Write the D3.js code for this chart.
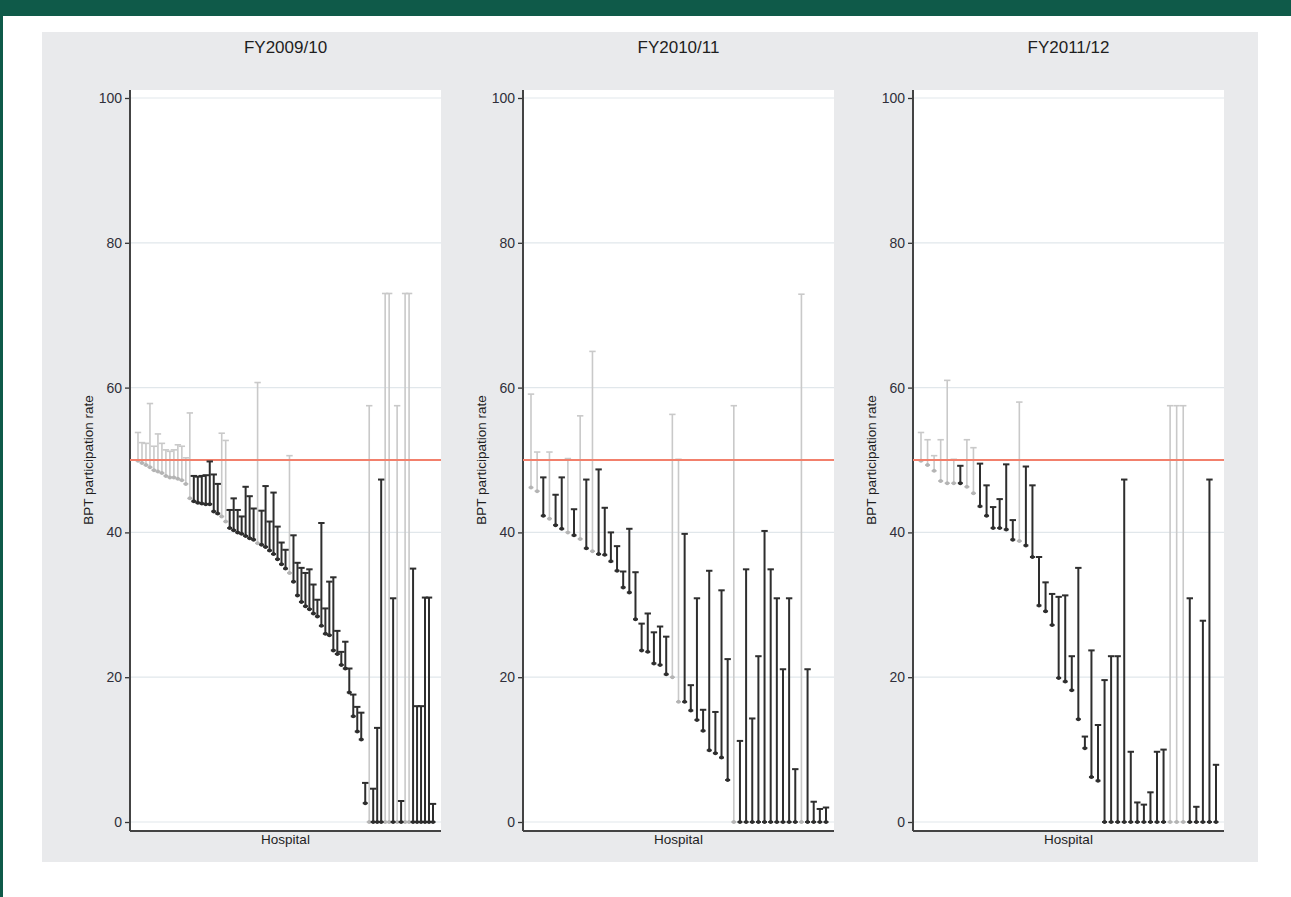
<!DOCTYPE html>
<html>
<head>
<meta charset="utf-8">
<script src="https://cdn.jsdelivr.net/npm/d3@7"></script>
<style>
  body { margin: 0; background: #fff; }
  svg { display: block; font-family: "Liberation Sans", Arial, sans-serif; }
</style>
</head>
<body>
<div id="graph"></div>
<script>
// panel titles
var years = ["FY2009/10", "FY2010/11", "FY2011/12"]

// lower / upper CI of BPT participation rate, hospitals ranked
var lower0910 = [49.9, 49.6, 49.3, 49.0, 48.6, 48.4, 48.2, 47.8, 47.6, 47.6, 47.4, 47.2, 46.7, 44.7, 44.3, 44.1, 44.0, 43.9, 43.9, 42.9,
    42.6, 42.2, 41.5, 40.6, 40.3, 40.0, 39.8, 39.5, 39.2, 39.0, 38.5, 38.3, 38.0, 37.5, 37.0, 36.3, 35.6, 35.0, 34.4, 33.2,
    31.3, 30.4, 29.8, 29.4, 28.8, 28.4, 27.1, 26.0, 25.8, 23.7, 23.2, 21.7, 21.2, 17.9, 14.6, 12.5, 11.4, 2.6, 0, 0,
    0, 0, 0, 0, 0, 0, 0, 0, 0, 0, 0, 0, 0, 0, 0]
var upper0910 = [53.8, 52.4, 52.3, 57.8, 51.9, 53.6, 52.3, 51.4, 51.2, 51.4, 52.1, 51.9, 50.3, 56.5, 47.8, 47.7, 47.8, 47.9, 49.8, 48.0,
    46.7, 53.7, 52.7, 43.1, 44.7, 43.1, 42.2, 46.3, 45.0, 43.3, 60.7, 43.0, 46.4, 41.5, 45.5, 40.8, 38.6, 37.6, 50.6, 39.6,
    35.8, 35.1, 34.4, 34.9, 32.8, 30.7, 41.3, 29.5, 33.2, 33.8, 26.4, 23.5, 24.9, 21.2, 17.6, 15.9, 15.1, 5.4, 57.5, 4.6,
    13.0, 47.3, 73.0, 73.0, 30.9, 57.5, 2.9, 73.0, 73.0, 35.0, 16.0, 16.0, 31.0, 31.0, 2.5]

var lower1011 = [46.2, 45.7, 42.3, 41.9, 41.0, 40.5, 40.0, 39.6, 39.1, 37.8, 37.4, 37.0, 36.9, 36.0, 34.7, 32.4, 31.7, 28.0, 23.7, 23.5,
    21.9, 21.7, 20.4, 20.0, 16.6, 16.6, 15.4, 14.1, 12.6, 9.9, 9.5, 8.9, 5.8, 0, 0, 0, 0, 0, 0, 0,
    0, 0, 0, 0, 0, 0, 0, 0, 0]
var upper1011 = [59.1, 51.1, 47.6, 51.1, 45.2, 47.6, 50.2, 43.2, 56.1, 47.3, 65.0, 48.7, 43.4, 40.0, 38.1, 34.6, 40.5, 34.5, 27.4, 28.8,
    26.2, 27.0, 25.6, 56.3, 50.1, 39.8, 18.9, 30.9, 15.5, 34.7, 15.2, 32.0, 22.5, 57.5, 11.2, 34.9, 14.3, 22.9, 40.2, 34.9,
    30.9, 21.1, 30.9, 7.3, 72.9, 21.1, 2.8, 1.8, 2.0]

var lower1112 = [49.9, 49.3, 48.5, 47.1, 46.8, 46.8, 46.8, 46.3, 45.4, 43.6, 42.3, 40.6, 40.6, 40.4, 39.0, 38.8, 38.2, 36.6, 29.9, 29.1,
    27.2, 19.9, 19.4, 18.2, 14.2, 10.2, 6.2, 5.7, 0, 0, 0, 0, 0, 0, 0, 0, 0, 0, 0, 0,
    0, 0, 0, 0, 0, 0]
var upper1112 = [53.8, 52.8, 50.6, 52.8, 61.0, 50.1, 49.2, 52.8, 51.7, 49.5, 46.5, 43.5, 44.6, 49.4, 41.7, 58.0, 49.1, 46.5, 36.6, 33.1,
    31.5, 31.1, 31.3, 22.9, 35.1, 11.8, 23.7, 13.4, 19.6, 22.9, 22.9, 47.3, 9.7, 2.7, 2.4, 4.1, 9.7, 10.0, 57.5, 57.5,
    57.5, 30.9, 2.1, 27.8, 47.3, 7.9]

var yTicks = [0, 20, 40, 60, 80, 100]
var target = 50

var lowers = [lower0910, lower1011, lower1112]
var uppers = [upper0910, upper1011, upper1112]

var width = 1291
var height = 897
var panelLeft = [130, 523, 913]
var plotW = 311
var plotTop = 90
var plotBottom = 831

var svg = d3.select("#graph").append("svg")
    .attr("width", width)
    .attr("height", height)

// outer frame: green strip on top and on the left
svg.append("rect").attr("x", 0).attr("y", 0).attr("width", width).attr("height", 16).attr("fill", "#0f5a49")
svg.append("rect").attr("x", 0).attr("y", 0).attr("width", 3).attr("height", height).attr("fill", "#0f5a49")

// grey graph region
svg.append("rect")
    .attr("x", 42).attr("y", 32)
    .attr("width", 1216).attr("height", 830)
    .attr("fill", "#e9eaec")

var y = d3.scaleLinear().domain([0, 100]).range([822, 98])

years.forEach(function (title, p) {
    var left = panelLeft[p]
    var lo = lowers[p]
    var up = uppers[p]
    var n = lo.length

    var x = d3.scaleLinear()
        .domain([0, n - 1])
        .range([left + 8, left + plotW - 8])

    var g = svg.append("g")

    // white plot region
    g.append("rect")
        .attr("x", left).attr("y", plotTop)
        .attr("width", plotW).attr("height", plotBottom - plotTop)
        .attr("fill", "#fff")

    // gridlines
    g.selectAll(".grid").data(yTicks).enter().append("line")
        .attr("x1", left).attr("x2", left + plotW)
        .attr("y1", function (d) { return y(d) })
        .attr("y2", function (d) { return y(d) })
        .attr("stroke", "#e1e7eb")
        .attr("stroke-width", 1.2)

    // y axis
    var axis = g.append("g")
        .attr("transform", "translate(" + left + ",0)")
        .call(d3.axisLeft(y).tickValues(yTicks).tickSize(5).tickPadding(3))
    axis.select(".domain").remove()
    axis.selectAll(".tick line").attr("stroke", "#333").attr("stroke-width", 1.3)
    axis.selectAll(".tick text")
        .attr("fill", "#2f2f3a")
        .style("font-size", "14px")
        .style("font-family", "Liberation Sans, Arial, sans-serif")

    g.append("line")
        .attr("x1", left).attr("x2", left)
        .attr("y1", plotTop).attr("y2", plotBottom)
        .attr("stroke", "#444").attr("stroke-width", 2)
    g.append("line")
        .attr("x1", left).attr("x2", left + plotW)
        .attr("y1", plotBottom).attr("y2", plotBottom)
        .attr("stroke", "#444").attr("stroke-width", 2)

    // title and axis titles
    g.append("text")
        .attr("x", left + plotW / 2).attr("y", 53)
        .attr("text-anchor", "middle")
        .attr("fill", "#1e1e1e")
        .style("font-size", "17px")
        .text(title)

    g.append("text")
        .attr("transform", "translate(" + (left - 37) + ",460) rotate(-90)")
        .attr("text-anchor", "middle")
        .attr("fill", "#1e1e1e")
        .style("font-size", "13.5px")
        .text("BPT participation rate")

    g.append("text")
        .attr("x", left + plotW / 2).attr("y", 844)
        .attr("text-anchor", "middle")
        .attr("fill", "#1e1e1e")
        .style("font-size", "13.5px")
        .text("Hospital")

    var rows = d3.range(n).map(function (i) {
        return { i: i, lo: lo[i], up: up[i], over: up[i] > target }
    })

    // hospitals whose interval still reaches the target are grey
    drawBars(g, rows.filter(function (d) { return d.over }), x, "#c9c9c9", "#b4b4b4", 1.6)

    // target line
    g.append("line")
        .attr("x1", left).attr("x2", left + plotW)
        .attr("y1", y(target)).attr("y2", y(target))
        .attr("stroke", "#f2806c")
        .attr("stroke-width", 2.2)

    drawBars(g, rows.filter(function (d) { return !d.over }), x, "#2e2e2e", "#2e2e2e", 2)
})

function drawBars(g, rows, x, col, dotCol, sw) {
    var b = g.append("g").selectAll("g").data(rows).enter().append("g")

    b.append("line")
        .attr("x1", function (d) { return x(d.i) })
        .attr("x2", function (d) { return x(d.i) })
        .attr("y1", function (d) { return y(d.lo) })
        .attr("y2", function (d) { return y(d.up) })
        .attr("stroke", col)
        .attr("stroke-width", sw)

    // cap on the upper bound
    b.append("line")
        .attr("x1", function (d) { return x(d.i) - 3.2 })
        .attr("x2", function (d) { return x(d.i) + 3.2 })
        .attr("y1", function (d) { return y(d.up) })
        .attr("y2", function (d) { return y(d.up) })
        .attr("stroke", col)
        .attr("stroke-width", sw)

    // marker on the lower bound
    b.append("line")
        .attr("x1", function (d) { return x(d.i) - 2.5 })
        .attr("x2", function (d) { return x(d.i) + 2.5 })
        .attr("y1", function (d) { return y(d.lo) })
        .attr("y2", function (d) { return y(d.lo) })
        .attr("stroke", dotCol)
        .attr("stroke-width", sw)
    b.append("circle")
        .attr("cx", function (d) { return x(d.i) })
        .attr("cy", function (d) { return y(d.lo) })
        .attr("r", 2)
        .attr("fill", dotCol)
}
</script>
</body>
</html>
